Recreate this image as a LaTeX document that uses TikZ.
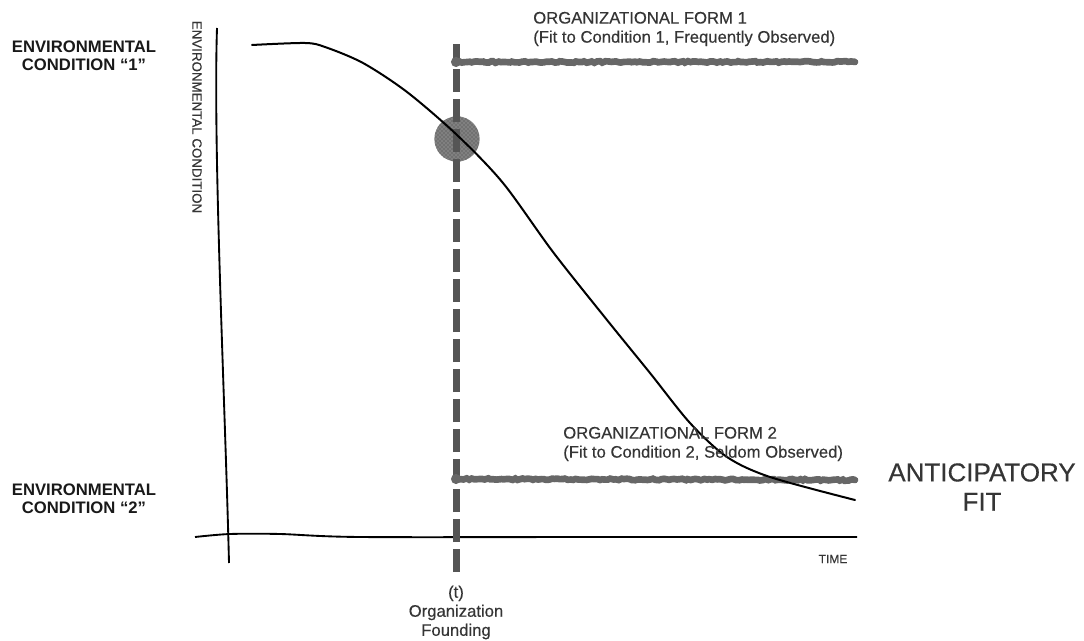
\documentclass[tikz,border=0pt]{standalone}
\usepackage{fontspec}
\setmainfont{Liberation Sans}
\newfontfamily\mediumfont[FakeBold=0.35]{Liberation Sans}
\usetikzlibrary{positioning,patterns,decorations.pathmorphing}
\definecolor{inkgray}{HTML}{353535}
\definecolor{barcolor}{HTML}{555555}
\definecolor{formcolor}{HTML}{676767}
\begin{document}
\begin{tikzpicture}[x=0.75pt,y=-0.75pt]
\tikzset{labeltext/.style={inner sep=0pt, text=inkgray, font=\mediumfont\fontsize{12.5}{14.3}\selectfont}}
\tikzset{condition/.style={inner sep=0pt, align=center, text=black!90, font=\bfseries\fontsize{12.5}{13.5}\selectfont}}
\tikzset{formline/.style={line width=5pt, formcolor, line cap=round,
  decorate, decoration={random steps, segment length=2pt, amplitude=0.6pt}}}
\useasboundingbox (0,0) rectangle (1084,641);
% axes
\coordinate (ytop) at (217,28);
\coordinate (ybot) at (229,563);
\coordinate (xleft) at (195,537);
\coordinate (xright) at (857,537);
\draw[line width=1.4pt] (ytop) .. controls (213,150) and (225,400) .. (ybot);
\draw[line width=1.4pt] plot[smooth] coordinates {(xleft) (230,534) (280,534) (360,537) (600,537) (xright)};
% founding
\coordinate (fit) at (457,139);
\fill[black!50] (fit) circle[radius=17pt];
\fill[pattern=crosshatch dots, pattern color=black!75] (fit) circle[radius=17pt];
\coordinate (dtop) at (456,44);
\coordinate (dbot) at (456,572);
\draw[line width=5.25pt, barcolor, dash pattern=on 17pt off 5.5pt] (dbot) -- (dtop);
% forms
\coordinate (f1s) at (456,62);
\coordinate (f1e) at (855,62);
\coordinate (f2s) at (456,479);
\coordinate (f2e) at (855,480);
\draw[formline] (f1s) -- (f1e);
\draw[formline] (f2s) -- (f2e);
\fill[formcolor] (f1s) circle[radius=3.8pt];
\fill[formcolor] (f2s) circle[radius=3.8pt];
% condition curve
\draw[line width=1.5pt, line cap=round] plot[smooth, tension=0.5] coordinates {(252,45) (305,43) (325,47) (363,63) (407,92)
  (457,135) (503,183) (553,252) (607,320) (650,373) (690,423) (727,457) (770,477) (855,500)};
% labels
\node[condition] (cond1) at (84,56) {ENVIRONMENTAL\\CONDITION “1”};
\node[condition] (cond2) at (84,499) {ENVIRONMENTAL\\CONDITION “2”};
\node[rotate=-90, inner sep=0pt, text=inkgray, font=\mediumfont\fontsize{10}{12}\selectfont] (ylabel) at (197,117) {ENVIRONMENTAL CONDITION};
\node[labeltext, align=left, anchor=west] (form1) at (533,29) {ORGANIZATIONAL FORM 1\\(Fit to Condition 1, Frequently Observed)};
\node[labeltext, align=left, anchor=west] (form2) at (563,444) {ORGANIZATIONAL FORM 2\\(Fit to Condition 2, Seldom Observed)};
\node[labeltext, align=center, below=10pt of dbot] (found) {(t)\\Organization\\Founding};
\node[inner sep=0pt, text=inkgray, font=\mediumfont\fontsize{9}{10}\selectfont] (time) at (833,559) {TIME};
\node[inner sep=0pt, text=inkgray, align=center, font=\mediumfont\fontsize{19.5}{22}\selectfont] (antic) at (982,487) {ANTICIPATORY\\FIT};
\end{tikzpicture}
\end{document}
